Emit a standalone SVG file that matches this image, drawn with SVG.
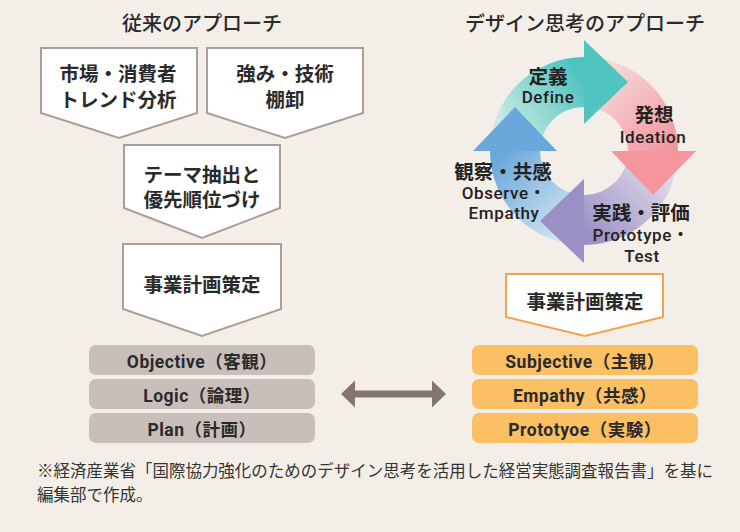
<svg xmlns="http://www.w3.org/2000/svg" width="740" height="532" viewBox="0 0 740 532">
<style>
.bg{fill:#f3efe8}
.title{font-family:"Noto Sans CJK JP","Noto Sans",sans-serif;font-size:20px;font-weight:500;fill:#2a2a2a;text-anchor:middle}
.box{fill:#fff;stroke:#a99e98;stroke-width:2;stroke-linejoin:miter}
.obox{fill:#fff;stroke:#f4a24a;stroke-width:2}
.bt{font-family:"Noto Sans CJK JP",sans-serif;font-size:19.5px;font-weight:700;fill:#2a2a2a;text-anchor:middle}
.cj{font-family:"Noto Sans CJK JP",sans-serif;font-size:19.5px;font-weight:700;fill:#222;text-anchor:middle}
.en{font-family:Roboto,"Noto Sans CJK JP",sans-serif;font-size:17px;font-weight:500;fill:#222;text-anchor:middle;letter-spacing:0.6px}
.gbar{fill:#c9bfba}
.obar{fill:#fbbf64}
.bar-t{font-family:Roboto,"Noto Sans CJK JP",sans-serif;font-size:17.5px;font-weight:700;fill:#2a2a2a;text-anchor:middle;letter-spacing:0.5px}
.note{font-family:"Noto Sans CJK JP",sans-serif;font-size:16.5px;fill:#333}
</style>
<defs>
<linearGradient id="gTeal" gradientUnits="userSpaceOnUse" x1="495" y1="145" x2="584" y2="80">
<stop offset="0" stop-color="#e3f1ec"/><stop offset="1" stop-color="#4ec3bf"/>
</linearGradient>
<linearGradient id="gPink" gradientUnits="userSpaceOnUse" x1="592" y1="62" x2="672" y2="150">
<stop offset="0" stop-color="#f5e4e2"/><stop offset="1" stop-color="#f4959e"/>
</linearGradient>
<linearGradient id="gPurple" gradientUnits="userSpaceOnUse" x1="676" y1="158" x2="592" y2="240">
<stop offset="0" stop-color="#ebe7ef"/><stop offset="1" stop-color="#9b90c6"/>
</linearGradient>
<linearGradient id="gBlue" gradientUnits="userSpaceOnUse" x1="576" y1="240" x2="495" y2="160">
<stop offset="0" stop-color="#dfecf2"/><stop offset="1" stop-color="#6aa8dc"/>
</linearGradient>
</defs>
<rect class="bg" x="0" y="0" width="740" height="532"/>

<text class="title" x="202" y="31">従来のアプローチ</text>
<text class="title" x="585" y="31">デザイン思考のアプローチ</text>

<g id="node-market">
<polygon class="box" points="41,48 197,48 197,113 119,138 41,113"/>
<text class="bt" x="118" y="81">市場・消費者</text>
<text class="bt" x="118" y="106.5">トレンド分析</text>
</g>
<g id="node-strength">
<polygon class="box" points="207,48 363,48 363,113 285,138 207,113"/>
<text class="bt" x="285" y="81">強み・技術</text>
<text class="bt" x="285" y="106.5">棚卸</text>
</g>
<g id="node-theme">
<polygon class="box" points="124,145 280,145 280,208 202,238 124,208"/>
<text class="bt" x="202" y="181.5">テーマ抽出と</text>
<text class="bt" x="202" y="206.5">優先順位づけ</text>
</g>
<g id="node-plan-left">
<polygon class="box" points="123,244 281,244 281,309 202,336 123,309"/>
<text class="bt" x="202" y="291.5">事業計画策定</text>
</g>

<g id="node-cycle">
<path d="M490,151 A94,94 0 0 1 584,57 L584,107 A44,44 0 0 0 540,151 Z" fill="url(#gTeal)"/>
<path d="M584,57 A94,94 0 0 1 678,151 L628,151 A44,44 0 0 0 584,107 Z" fill="url(#gPink)"/>
<path d="M678,151 A94,94 0 0 1 584,245 L584,195 A44,44 0 0 0 628,151 Z" fill="url(#gPurple)"/>
<path d="M584,245 A94,94 0 0 1 490,151 L540,151 A44,44 0 0 0 584,195 Z" fill="url(#gBlue)"/>
<polygon points="584,40 628,82 584,124" fill="#4fc4c0"/>
<polygon points="611,151 696,151 653,195" fill="#f5969f"/>
<polygon points="584,179 584,263 540,221" fill="#9b90c6"/>
<polygon points="473,151 557,151 515,107" fill="#6aa8dc"/>
</g>
<g id="node-define">
<text class="cj" x="548" y="83.5">定義</text>
<text class="en" x="548" y="103">Define</text>
</g>
<g id="node-ideation">
<text class="cj" x="654" y="121.5">発想</text>
<text class="en" x="653" y="143">Ideation</text>
</g>
<g id="node-observe">
<text class="cj" x="503" y="178.5">観察・共感</text>
<text class="en" x="504" y="199">Observe・</text>
<text class="en" x="504" y="219">Empathy</text>
</g>
<g id="node-prototype">
<text class="cj" x="641" y="219.5">実践・評価</text>
<text class="en" x="641" y="241">Prototype・</text>
<text class="en" x="642" y="262">Test</text>
</g>

<g id="node-plan-right">
<polygon class="obox" points="506,274 663,274 663,317 585,336 506,317"/>
<text class="bt" x="585" y="308.5">事業計画策定</text>
</g>

<g id="node-left-bars">
<rect class="gbar" x="89" y="345" width="226" height="30" rx="7"/>
<rect class="gbar" x="89" y="379" width="226" height="30" rx="7"/>
<rect class="gbar" x="89" y="413" width="226" height="30" rx="7"/>
<text class="bar-t" x="202" y="368">Objective（客観）</text>
<text class="bar-t" x="202" y="401.5">Logic（論理）</text>
<text class="bar-t" x="202" y="436">Plan（計画）</text>
</g>
<g id="node-right-bars">
<rect class="obar" x="472" y="345" width="226" height="30" rx="7"/>
<rect class="obar" x="472" y="379" width="226" height="30" rx="7"/>
<rect class="obar" x="472" y="413" width="226" height="30" rx="7"/>
<text class="bar-t" x="585" y="368">Subjective（主観）</text>
<text class="bar-t" x="585" y="401.5">Empathy（共感）</text>
<text class="bar-t" x="585" y="436">Prototyoe（実験）</text>
</g>

<g id="connectors">
<polygon points="341,394 355,380.5 355,390.5 432,390.5 432,380.5 446,394 432,407.5 432,397.5 355,397.5 355,407.5" fill="#857570"/>
</g>

<g id="footnote">
<text class="note" x="37" y="477" textLength="676" lengthAdjust="spacingAndGlyphs">※経済産業省「国際協力強化のためのデザイン思考を活用した経営実態調査報告書」を基に</text>
<text class="note" x="37" y="501">編集部で作成。</text>
</g>
</svg>
